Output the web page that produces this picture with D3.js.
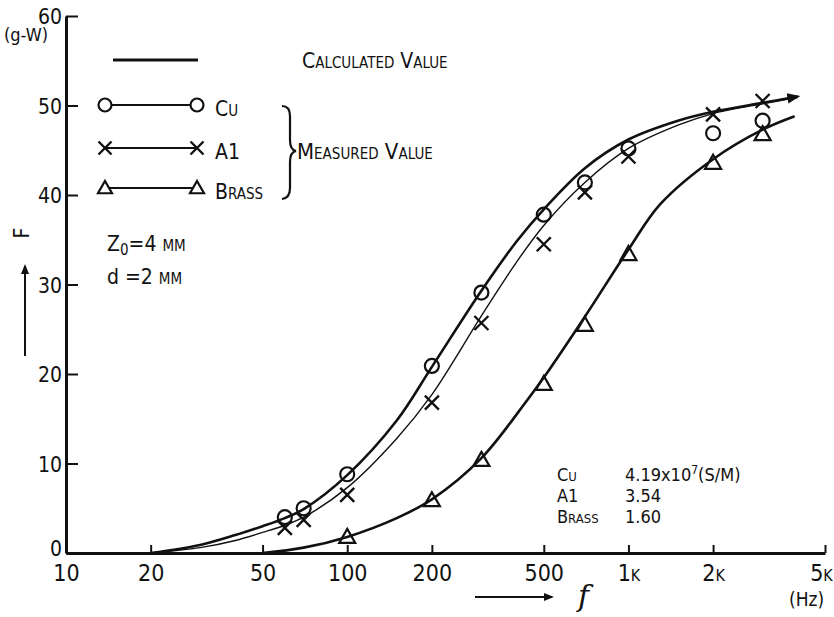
<!DOCTYPE html>
<html>
<head>
<meta charset="utf-8">
<script src="https://cdn.jsdelivr.net/npm/d3@7"></script>
<style>
  body { margin: 0; background: #fff; }
  svg { display: block; }
  text { font-family: "Liberation Sans Narrow", "DejaVu Sans Condensed", sans-serif; fill: #111; }
</style>
</head>
<body>
<svg width="834" height="617"></svg>
<script>
// values
const freqTicks = [10, 20, 50, 100, 200, 500, 1000, 2000, 5000];
const freqLabels = ['10', '20', '50', '100', '200', '500', '1k', '2k', '5k'];
const forceTicks = [0, 10, 20, 30, 40, 50, 60];

// calculated curves
const cuCalcFreq = [20, 30, 40, 50, 60, 70, 100, 150, 200, 300, 400, 500, 700, 1000, 1500, 2000, 3000, 4000];
const cuCalcForce = [0, 0.9, 2.0, 3.0, 3.9, 4.9, 8.7, 14.8, 20.8, 29.3, 34.8, 38.4, 43.0, 46.2, 48.3, 49.3, 50.3, 51.0];
const alCalcFreq = [20, 30, 40, 50, 60, 70, 100, 150, 200, 300, 400, 500, 700, 1000, 1500, 2000, 3000, 4000];
const alCalcForce = [0, 0.6, 1.4, 2.3, 3.1, 4.0, 7.3, 12.8, 17.7, 26.5, 32.5, 36.6, 41.4, 45.2, 47.8, 49.1, 50.2, 50.9];
const brassCalcFreq = [50, 70, 100, 150, 200, 300, 437, 500, 700, 1000, 1300, 2000, 3000, 3900];
const brassCalcForce = [0, 0.6, 1.8, 3.9, 6.0, 10.6, 17.1, 19.6, 26.4, 33.9, 39.0, 44.0, 47.3, 48.8];

// measured values
const cuFreq = [60, 70, 100, 200, 300, 500, 700, 1000, 2000, 3000];
const cuForce = [4.0, 5.0, 8.8, 20.9, 29.1, 37.8, 41.4, 45.2, 46.9, 48.3];
const alFreq = [60, 70, 100, 200, 300, 500, 700, 1000, 2000, 3000];
const alForce = [2.8, 3.7, 6.5, 16.8, 25.7, 34.5, 40.3, 44.3, 49.0, 50.5];
const brassFreq = [100, 200, 300, 500, 700, 1000, 2000, 3000];
const brassForce = [1.8, 5.9, 10.4, 18.9, 25.5, 33.4, 43.6, 46.8];

const conductivity = [['Cu', '4.19x10', '7', '(S/M)'], ['A1', '3.54'], ['Brass', '1.60']];

let svg = d3.select('svg');

let x = d3.scaleLog().domain([10, 5000]).range([66, 825]);
let y = d3.scaleLinear().domain([0, 60]).range([553, 16]);

const ink = '#111';

svg.append('defs').append('marker')
  .attr('id', 'tip')
  .attr('viewBox', '0 0 10 10')
  .attr('refX', 8).attr('refY', 5)
  .attr('markerWidth', 5).attr('markerHeight', 5)
  .attr('markerUnits', 'strokeWidth')
  .attr('orient', 'auto')
  .append('path').attr('d', 'M0,1 L10,5 L0,9 Z').attr('fill', ink);

// # Axes #
let xAxis = d3.axisBottom(x).tickValues(freqTicks).tickFormat('').tickSizeInner(-8).tickSizeOuter(0);
let gx = svg.append('g').attr('transform', `translate(0,${y(0)})`).call(xAxis);
gx.select('.domain').attr('stroke', ink).attr('stroke-width', 3);
gx.selectAll('.tick line').attr('stroke', ink).attr('stroke-width', 2);

gx.selectAll('.tick').append('text')
  .attr('y', 28)
  .attr('x', d => d === 5000 ? -4 : 0)
  .attr('text-anchor', 'middle')
  .style('font-size', '23px')
  .style('font-variant', 'small-caps')
  .text((d, i) => freqLabels[i]);

let yAxis = d3.axisLeft(y).tickValues(forceTicks).tickFormat('').tickSizeInner(-12).tickSizeOuter(0);
let gy = svg.append('g').attr('transform', `translate(${x(10)},0)`).call(yAxis);
gy.select('.domain').attr('stroke', ink).attr('stroke-width', 3);
gy.selectAll('.tick line').attr('stroke', ink).attr('stroke-width', 2);

gy.selectAll('.tick').append('text')
  .attr('x', -4)
  .attr('dy', d => d === 0 ? '0.1em' : '0.36em')
  .attr('text-anchor', 'end')
  .style('font-size', '21px')
  .text(d => d);
// # Axes # END

// # Curves #
let line = d3.line()
  .x(d => x(d[0]))
  .y(d => y(d[1]))
  .curve(d3.curveCatmullRom.alpha(0.5));

svg.append('path')
  .datum(cuCalcFreq.map((f, i) => [f, cuCalcForce[i]]))
  .attr('d', line)
  .attr('fill', 'none').attr('stroke', ink).attr('stroke-width', 2.6)
  .attr('marker-end', 'url(#tip)');

svg.append('path')
  .datum(alCalcFreq.map((f, i) => [f, alCalcForce[i]]))
  .attr('d', line)
  .attr('fill', 'none').attr('stroke', ink).attr('stroke-width', 1.4);

svg.append('path')
  .datum(brassCalcFreq.map((f, i) => [f, brassCalcForce[i]]))
  .attr('d', line)
  .attr('fill', 'none').attr('stroke', ink).attr('stroke-width', 2.6);
// # Curves # END

// # Markers #
function drawCircle(g, cx, cy, r, fill) {
  g.append('circle').attr('cx', cx).attr('cy', cy).attr('r', r)
    .attr('fill', fill).attr('stroke', ink).attr('stroke-width', 2.2);
}
function drawCross(g, cx, cy, s) {
  g.append('path')
    .attr('d', `M${cx - s},${cy - s}L${cx + s},${cy + s}M${cx - s},${cy + s}L${cx + s},${cy - s}`)
    .attr('stroke', ink).attr('stroke-width', 2.4).attr('fill', 'none');
}
function drawTriangle(g, cx, cy, s, fill) {
  g.append('path')
    .attr('d', `M${cx},${cy - s}L${cx + s},${cy + s * 0.75}L${cx - s},${cy + s * 0.75}Z`)
    .attr('fill', fill).attr('stroke', ink).attr('stroke-width', 2.2);
}

let gm = svg.append('g');
cuFreq.forEach((f, i) => drawCircle(gm, x(f), y(cuForce[i]), 7, 'none'));
alFreq.forEach((f, i) => drawCross(gm, x(f), y(alForce[i]), 7));
brassFreq.forEach((f, i) => drawTriangle(gm, x(f), y(brassForce[i]), 8, 'none'));
// # Markers # END

// # Legend #
let lg = svg.append('g');
lg.append('line').attr('x1', 113).attr('x2', 198).attr('y1', 60).attr('y2', 60)
  .attr('stroke', ink).attr('stroke-width', 3);
lg.append('text').attr('x', 302).attr('y', 68)
  .style('font-size', '21px').style('font-variant', 'small-caps').text('Calculated Value');

const legendRows = [
  { y: 105, label: 'Cu', draw: drawCircle, size: 6.5 },
  { y: 148, label: 'A1', draw: drawCross, size: 6.5 },
  { y: 188, label: 'Brass', draw: drawTriangle, size: 7 }
];
legendRows.forEach(row => {
  lg.append('line').attr('x1', 105).attr('x2', 197).attr('y1', row.y).attr('y2', row.y)
    .attr('stroke', ink).attr('stroke-width', 2);
  row.draw(lg, 105, row.y, row.size, '#fff');
  row.draw(lg, 197, row.y, row.size, '#fff');
  lg.append('text').attr('x', 215).attr('y', row.y + 11)
    .style('font-size', '21px').style('font-variant', 'small-caps').text(row.label);
});

// brace
lg.append('path')
  .attr('d', 'M282,106 Q290,106 290,116 L290,140 Q290,150 296,151 Q290,152 290,162 L290,188 Q290,198 282,199')
  .attr('fill', 'none').attr('stroke', ink).attr('stroke-width', 2.2);
lg.append('text').attr('x', 297).attr('y', 159)
  .style('font-size', '22px').style('font-variant', 'small-caps').text('Measured Value');

// Z0 and d
let tz = svg.append('text').attr('x', 107).attr('y', 251).style('font-size', '21px');
tz.append('tspan').text('Z');
tz.append('tspan').attr('dy', 4).style('font-size', '15px').text('0');
tz.append('tspan').attr('dy', -4).text('=4 ');
tz.append('tspan').style('font-variant', 'small-caps').text('mm');
let td = svg.append('text').attr('x', 107).attr('y', 284).style('font-size', '21px');
td.append('tspan').text('d =2 ');
td.append('tspan').style('font-variant', 'small-caps').text('mm');
// # Legend # END

// # Axis titles #
svg.append('text').attr('x', 4).attr('y', 41).style('font-size', '18px').text('(g-W)');

svg.append('text').attr('transform', 'translate(29,233) rotate(-90)')
  .attr('text-anchor', 'middle').style('font-size', '21px').text('F');
svg.append('line').attr('x1', 25).attr('x2', 25).attr('y1', 356).attr('y2', 266)
  .attr('stroke', ink).attr('stroke-width', 2).attr('marker-end', 'url(#tip)');

svg.append('line').attr('x1', 475).attr('x2', 552).attr('y1', 597).attr('y2', 597)
  .attr('stroke', ink).attr('stroke-width', 2).attr('marker-end', 'url(#tip)');
svg.append('text').attr('x', 578).attr('y', 606)
  .style('font-family', '"DejaVu Serif", serif').style('font-style', 'italic')
  .style('font-size', '30px').text('f');
svg.append('text').attr('x', 789).attr('y', 606).style('font-size', '19px').text('(Hz)');
// # Axis titles # END

// # Conductivity table #
conductivity.forEach((row, i) => {
  let by = 481 + i * 21;
  svg.append('text').attr('x', 557).attr('y', by)
    .style('font-size', '18px').style('font-variant', 'small-caps').text(row[0]);
  let t = svg.append('text').attr('x', 625).attr('y', by).style('font-size', '18px');
  t.append('tspan').text(row[1]);
  if (row.length > 2) {
    t.append('tspan').attr('dy', -7).style('font-size', '12px').text(row[2]);
    t.append('tspan').attr('dy', 7).text(row[3]);
  }
});
</script>
</body>
</html>
